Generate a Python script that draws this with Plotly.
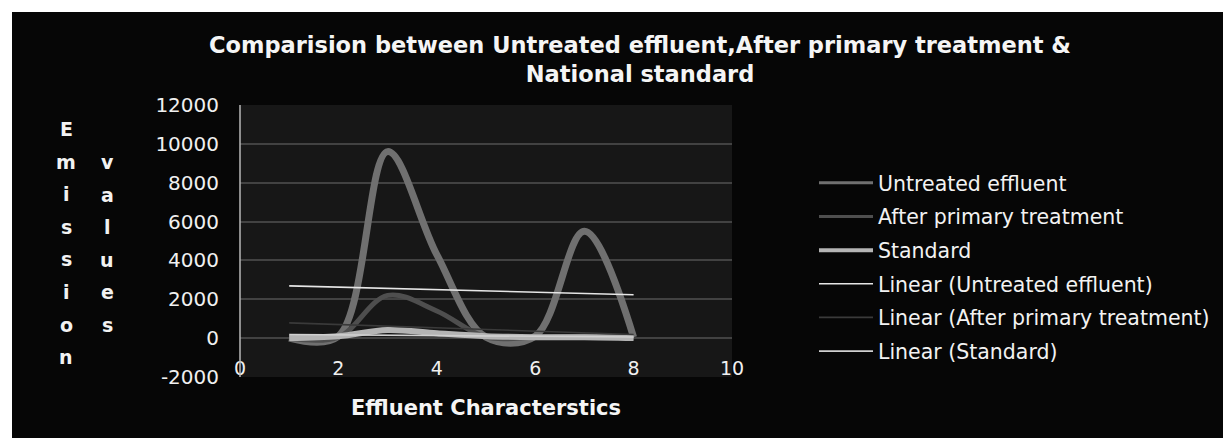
import numpy as np
import plotly.graph_objects as go

# ---- data ----
characteristics = [1, 2, 3, 4, 5, 6, 7, 8]
untreated = [7, 100, 9600, 4300, 50, 100, 5500, 50]
after_primary = [0, 50, 2200, 1400, 50, 50, 100, 50]
standard = [10, 100, 420, 250, 100, 50, 50, 10]
x_ticks = [0, 2, 4, 6, 8, 10]
y_ticks = [-2000, 0, 2000, 4000, 6000, 8000, 10000, 12000]

series_names = ["Untreated effluent", "After primary treatment", "Standard"]

OFF = 8  # page body margin
W, H = 1231 - OFF, 443 - OFF
# plot area in page pixels
PL, PR, PT, PB = 240, 732, 105, 377
L, R, T, B = PL - OFF, PR - OFF, PT - OFF, PB - OFF


def px_x(p):
    return (p - PL) / (PR - PL)


def px_y(p):
    return (PB - p) / (PB - PT)


fig = go.Figure()

styles = [
    dict(color="#707070", width=7, legend_width=3),
    dict(color="#4e4e4e", width=5, legend_width=3),
    dict(color="#b4b4b4", width=6, legend_width=4),
]
data_series = [untreated, after_primary, standard]

for i, (name, vals, st) in enumerate(zip(series_names, data_series, styles)):
    fig.add_trace(go.Scatter(
        x=characteristics, y=vals, mode="lines", name=name,
        line=dict(color=st["color"], width=st["width"], shape="spline", smoothing=1.0),
        legendgroup=f"g{i}", showlegend=False,
    ))
    # legend entry with the thinner legend key
    fig.add_trace(go.Scatter(
        x=[None], y=[None], mode="lines", name=name,
        line=dict(color=st["color"], width=st["legend_width"]),
        legendgroup=f"g{i}", showlegend=True,
    ))

trend_styles = ["#e6e6e6", "#3a3a3a", "#d0d0d0"]
xs = np.array(characteristics, dtype=float)
for i, (name, vals, col) in enumerate(zip(series_names, data_series, trend_styles)):
    k, b = np.polyfit(xs, np.array(vals, dtype=float), 1)
    fig.add_trace(go.Scatter(
        x=[xs[0], xs[-1]], y=[k * xs[0] + b, k * xs[-1] + b], mode="lines",
        name=f"Linear ({name})",
        line=dict(color=col, width=1.6),
        legendgroup=f"t{i}",
    ))

shapes = [
    dict(type="rect", xref="paper", yref="paper", layer="below",
         x0=px_x(12), x1=px_x(1245), y0=px_y(438), y1=px_y(12),
         fillcolor="#060606", line=dict(width=0)),
    dict(type="rect", xref="paper", yref="paper", layer="below",
         x0=0, x1=1, y0=0, y1=1,
         fillcolor="#171717", line=dict(width=0)),
    dict(type="line", xref="paper", yref="paper", x0=0, x1=0, y0=0, y1=1,
         line=dict(color="#b8b8b8", width=1.5), layer="above"),
]

annotations = []
for col_x, word, start in [(66, "Emission", 129), (107, "values", 162)]:
    for j, ch in enumerate(word):
        annotations.append(dict(
            text=ch, xref="paper", yref="paper",
            x=px_x(col_x), y=px_y(start + j * 32.6),
            xanchor="center", yanchor="middle", showarrow=False,
            font=dict(family="DejaVu Sans", size=19, color="#f2f2f2", weight="bold"),
        ))

fig.update_layout(
    width=W, height=H,
    margin=dict(l=L, r=W - R, t=T, b=H - B),
    paper_bgcolor="#ffffff",
    plot_bgcolor="rgba(0,0,0,0)",
    shapes=shapes,
    annotations=annotations,
    title=dict(
        text="<b>Comparision between Untreated effluent,After primary treatment &<br>National standard</b>",
        x=(640 - OFF) / W, xanchor="center",
        y=1 - (53 - OFF) / H, yanchor="top",
        font=dict(family="DejaVu Sans", size=22.5, color="#f5f5f5"),
    ),
    xaxis=dict(
        range=[0, 10], tickvals=x_ticks, ticktext=[str(v) for v in x_ticks],
        showgrid=False, zeroline=False, showline=False,
        tickfont=dict(family="DejaVu Sans", size=19, color="#f0f0f0"),
        ticklabelstandoff=-22,
        title=dict(text="<b>Effluent Characterstics</b>", standoff=22,
                   font=dict(family="DejaVu Sans", size=21, color="#f5f5f5")),
    ),
    yaxis=dict(
        range=[-2000, 12000], tickvals=y_ticks, ticktext=[str(v) for v in y_ticks],
        showgrid=True, gridcolor="#424242", gridwidth=2,
        zeroline=False, showline=False,
        tickfont=dict(family="DejaVu Sans", size=20, color="#f0f0f0"),
        ticklabelstandoff=20,
    ),
    legend=dict(
        x=px_x(814), xanchor="left", y=px_y(163), yanchor="top",
        font=dict(family="DejaVu Sans", size=20.5, color="#f2f2f2"),
        bgcolor="rgba(0,0,0,0)", itemwidth=54, tracegroupgap=4,
        traceorder="grouped",
    ),
    showlegend=True,
)

fig.write_html("out.html")
